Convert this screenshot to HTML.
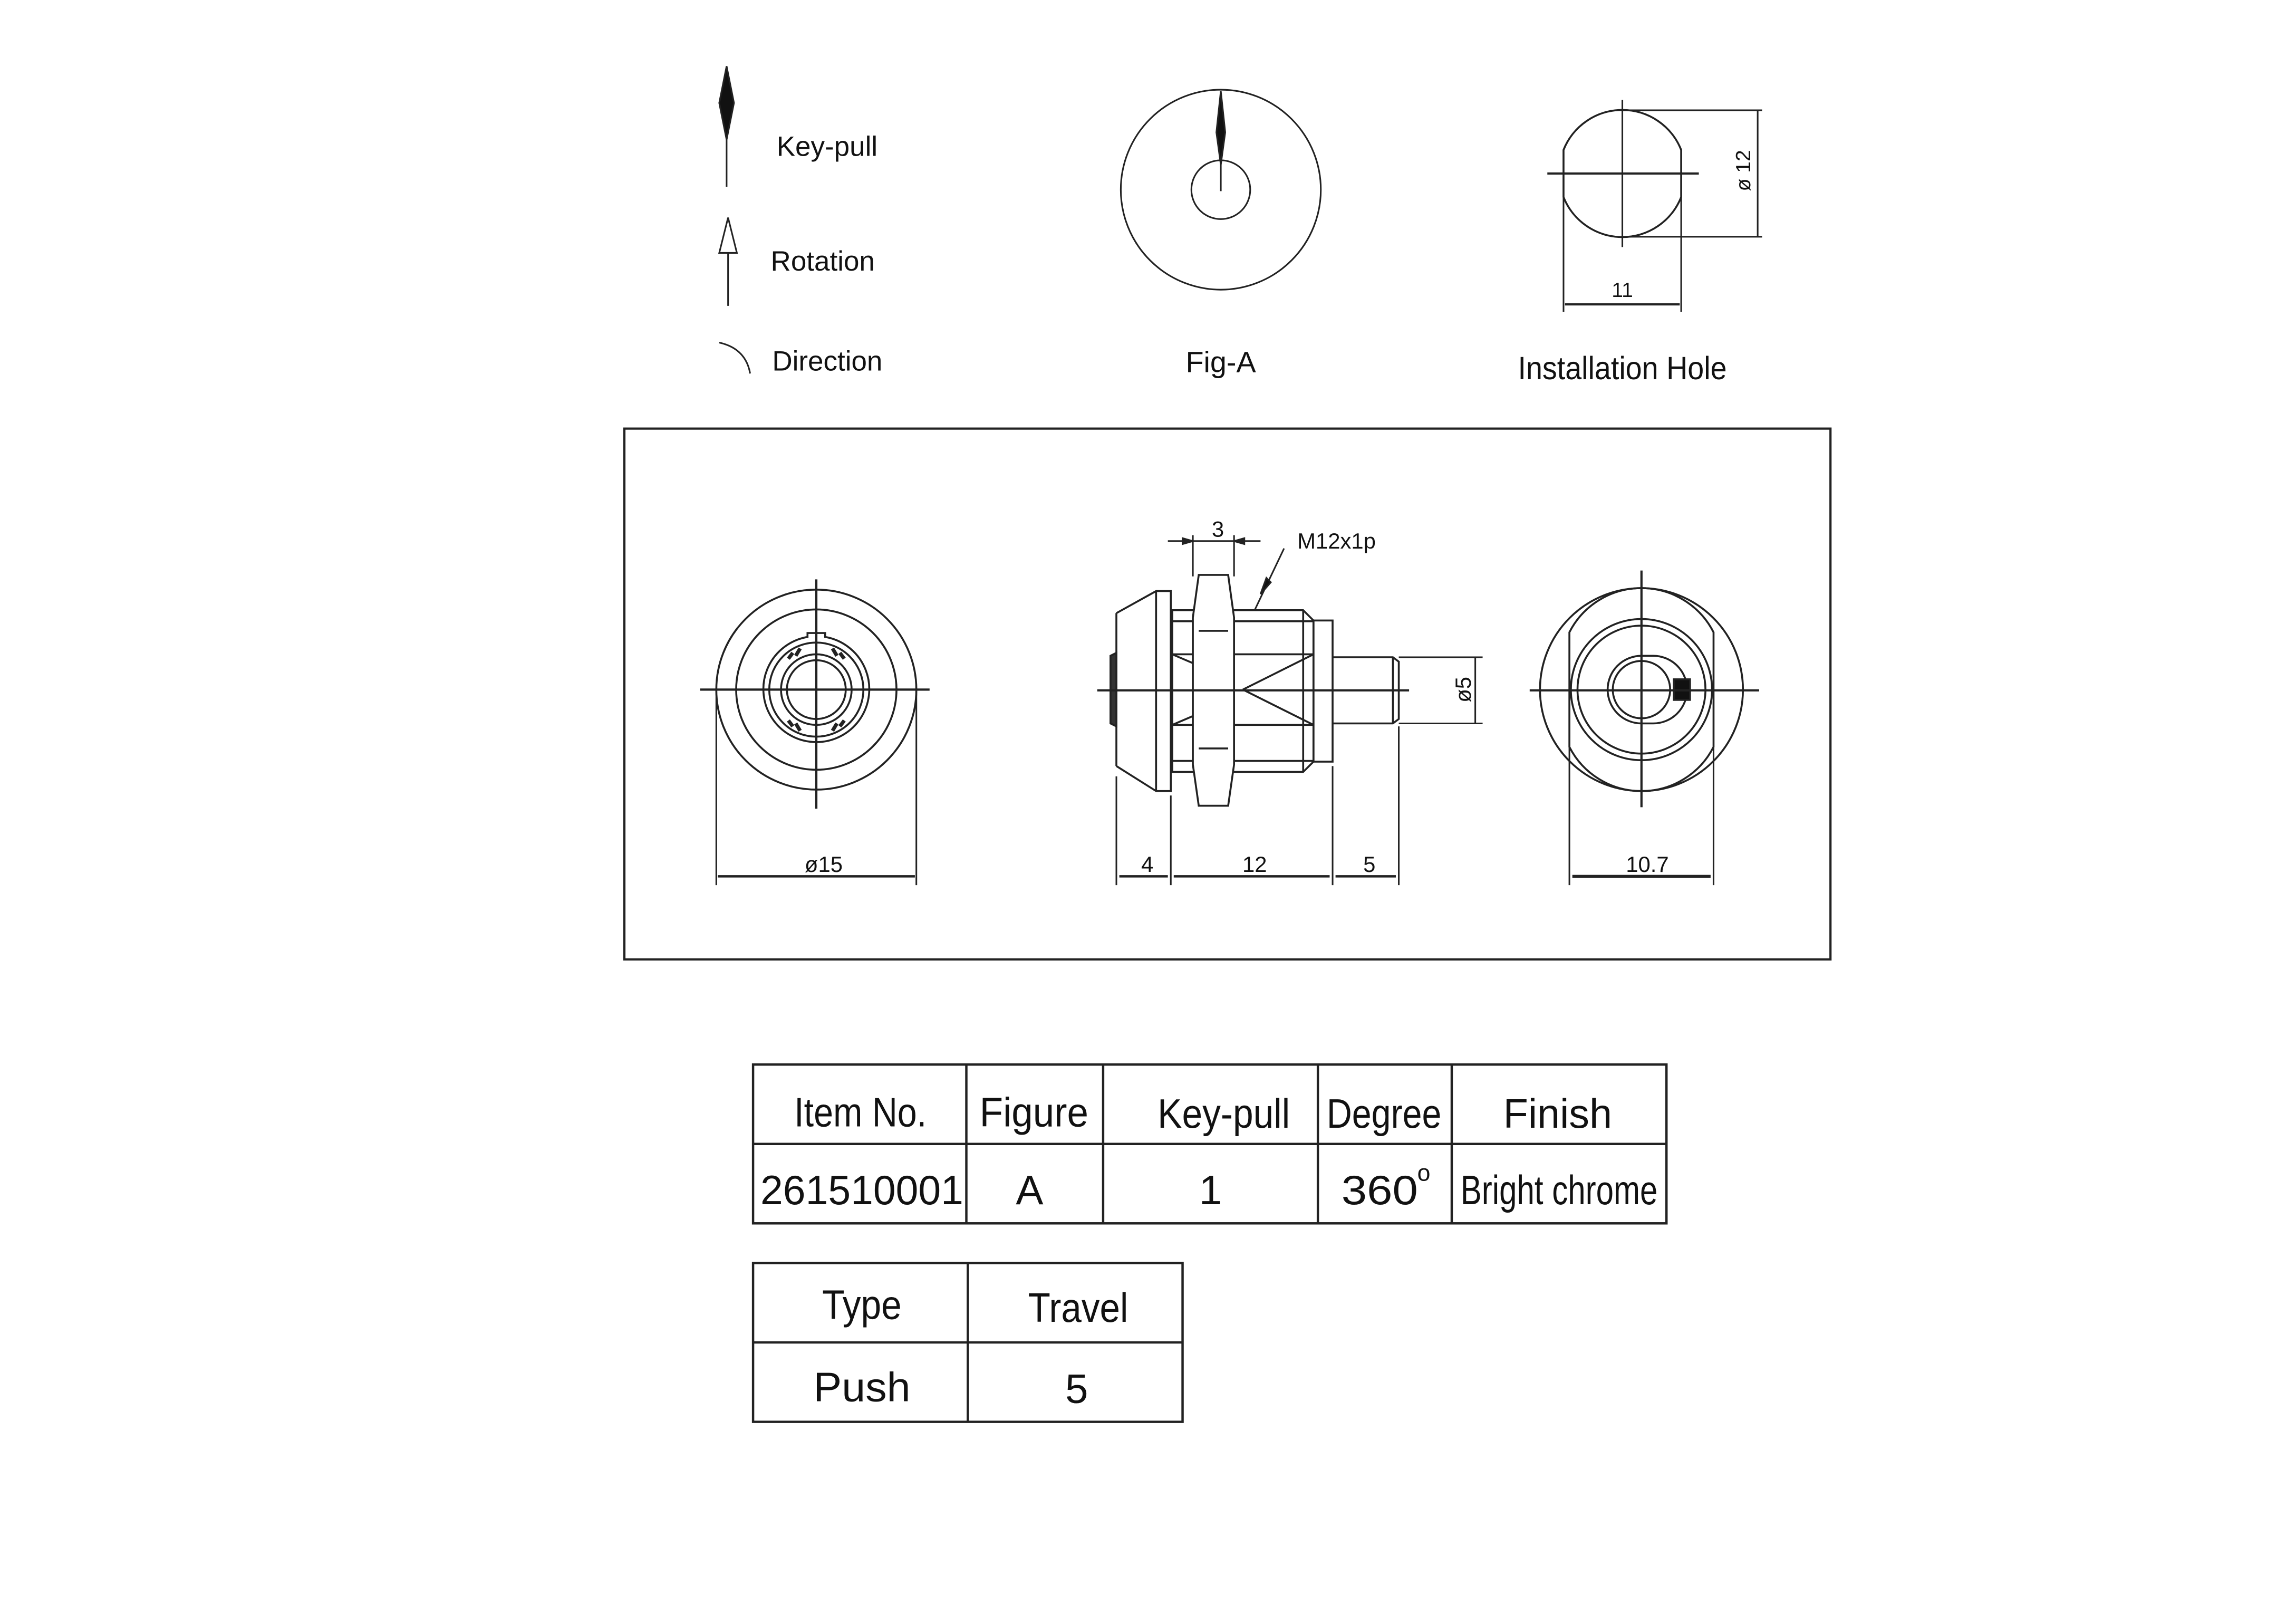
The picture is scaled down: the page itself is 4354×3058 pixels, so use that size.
<!DOCTYPE html>
<html><head><meta charset="utf-8"><style>
html,body{margin:0;padding:0;background:#fff;}
svg{display:block;}
text{font-family:"Liberation Sans",Arial,sans-serif;fill:#111;}
</style></head><body>
<svg width="4354" height="3058" viewBox="0 0 1561 1097" preserveAspectRatio="none" xmlns="http://www.w3.org/2000/svg">
<g fill="none" stroke="#222" stroke-width="1.1">
<!-- Legend -->
<path d="M494 45 L499 70 L494 95 L489 70 Z" fill="#111"/>
<line x1="494" y1="95" x2="494" y2="127"/>
<path d="M495 148 L501 172 L489 172 Z" fill="#fff"/>
<line x1="495" y1="172" x2="495" y2="208"/>
<path d="M489 233 Q507 237 510 254"/>
<!-- Fig-A -->
<circle cx="830" cy="129" r="68"/>
<circle cx="830" cy="129" r="20"/>
<path d="M830 62 L833 90 L830 112 L827 90 Z" fill="#111"/>
<line x1="830" y1="110" x2="830" y2="130"/>
<!-- Installation hole -->
<path d="M1063 102 A43 43 0 0 1 1143 102 L1143 134 A43 43 0 0 1 1063 134 Z" stroke-width="1.3"/>
<path d="M1063 134 L1063 212 M1143 134 L1143 212"/>
<line x1="1103" y1="68" x2="1103" y2="168"/>
<line x1="1052" y1="118" x2="1155" y2="118" stroke-width="1.5"/>
<line x1="1103" y1="75" x2="1198" y2="75"/>
<line x1="1103" y1="161" x2="1198" y2="161"/>
<line x1="1195" y1="75" x2="1195" y2="161"/>
<line x1="1064" y1="207" x2="1142" y2="207" stroke-width="1.5"/>
<!-- Frame -->
<rect x="424.5" y="291.5" width="820" height="361" stroke-width="1.5"/>
<!-- Left view -->
<g stroke-width="1.3">
<circle cx="555" cy="469" r="68"/>
<circle cx="555" cy="469" r="54.5"/>
<path d="M549 433.2 L549 430.5 L561 430.5 L561 433.2 A36 36 0 1 1 549 433.2 Z"/>
<circle cx="555" cy="469" r="32"/>
<circle cx="555" cy="469" r="24"/>
<circle cx="555" cy="469" r="20"/>
<path d="M536 448 L539 444 M544 441 L541 446 M574 448 L571 444 M566 441 L569 446 M536 490 L539 494 M544 497 L541 492 M574 490 L571 494 M566 497 L569 492" stroke-width="2.5"/>
</g>
<line x1="476" y1="469" x2="632" y2="469" stroke-width="1.5"/>
<line x1="555" y1="394" x2="555" y2="550" stroke-width="1.5"/>
<line x1="487" y1="469" x2="487" y2="602"/>
<line x1="623" y1="469" x2="623" y2="602"/>
<line x1="488" y1="596" x2="622" y2="596" stroke-width="1.6"/>
<!-- Middle view -->
<g stroke-width="1.3">
<path d="M759 417 L759 521 M759 417 L786 402 L796 402 L796 538 L786 538 L759 521 M786 402 L786 538"/>
<path d="M755 446 L759 444 L759 494 L755 492 Z" fill="#333"/>
<path d="M797 415 L886 415 L893 422 L893 518 L886 525 L797 525 Z"/>
<line x1="797" y1="422.5" x2="893" y2="422.5"/>
<line x1="797" y1="517.5" x2="893" y2="517.5"/>
<line x1="797" y1="445" x2="893" y2="445"/>
<line x1="797" y1="493" x2="893" y2="493"/>
<line x1="886" y1="415" x2="886" y2="525"/>
<rect x="893" y="422" width="13" height="96"/>
<path d="M815 391 L835 391 L839 420 L839 520 L835 548 L815 548 L811 520 L811 420 Z" fill="#fff"/>
<line x1="815" y1="429" x2="835" y2="429"/>
<line x1="815" y1="509" x2="835" y2="509"/>
<path d="M845 469 L893 445 M845 469 L893 493"/>
<path d="M797 445 L811 451 M797 493 L811 487"/>
<path d="M906 447 L947 447 L951 450 L951 489 L947 492 L906 492"/>
<line x1="947" y1="447" x2="947" y2="492"/>
</g>
<line x1="746" y1="469.5" x2="958" y2="469.5" stroke-width="1.5"/>
<line x1="951" y1="447" x2="1008" y2="447"/>
<line x1="951" y1="492" x2="1008" y2="492"/>
<line x1="1003" y1="447" x2="1003" y2="492"/>
<line x1="811" y1="364" x2="811" y2="392"/>
<line x1="839" y1="364" x2="839" y2="392"/>
<line x1="794" y1="368" x2="857" y2="368"/>
<path d="M811 368 L804 366 L804 370 Z M839 368 L846 366 L846 370 Z" fill="#222"/>
<line x1="873" y1="373" x2="853" y2="415"/>
<path d="M857 404 L861 393 L864 396 Z" fill="#111"/>
<line x1="759" y1="528" x2="759" y2="602"/>
<line x1="796" y1="541" x2="796" y2="602"/>
<line x1="906" y1="521" x2="906" y2="602"/>
<line x1="951" y1="494" x2="951" y2="602"/>
<line x1="761" y1="596" x2="794" y2="596" stroke-width="1.6"/>
<line x1="798" y1="596" x2="904" y2="596" stroke-width="1.6"/>
<line x1="908" y1="596" x2="949" y2="596" stroke-width="1.6"/>
<!-- Right view -->
<g stroke-width="1.3">
<circle cx="1116" cy="469" r="69"/>
<path d="M1067 430 A55 55 0 0 1 1165 430 L1165 508 A55 55 0 0 1 1067 508 Z"/>
<circle cx="1116" cy="469" r="48"/>
<circle cx="1116" cy="469" r="43.5"/>
<circle cx="1116" cy="469" r="19.5"/>
<path d="M1116 446 L1124 446 A23 23 0 0 1 1124 492 L1116 492 A23 23 0 0 1 1116 446 Z"/>
<rect x="1138" y="462" width="11" height="14" fill="#111"/>
</g>
<line x1="1040" y1="469.5" x2="1196" y2="469.5" stroke-width="1.5"/>
<line x1="1116" y1="388" x2="1116" y2="549" stroke-width="1.5"/>
<line x1="1067" y1="508" x2="1067" y2="602"/>
<line x1="1165" y1="508" x2="1165" y2="602"/>
<line x1="1069" y1="596" x2="1163" y2="596" stroke-width="2"/>
<!-- Tables -->
<g stroke-width="1.6">
<rect x="512" y="724" width="621" height="108"/>
<line x1="512" y1="778" x2="1133" y2="778"/>
<line x1="657" y1="724" x2="657" y2="832"/>
<line x1="750" y1="724" x2="750" y2="832"/>
<line x1="896" y1="724" x2="896" y2="832"/>
<line x1="987" y1="724" x2="987" y2="832"/>
<rect x="512" y="859" width="292" height="108"/>
<line x1="512" y1="913" x2="804" y2="913"/>
<line x1="658" y1="859" x2="658" y2="967"/>
</g>
</g>
<!-- Text -->
<text x="528" y="106" font-size="19">Key-pull</text>
<text x="524" y="184" font-size="19">Rotation</text>
<text x="525" y="252" font-size="19">Direction</text>
<text x="830" y="253" font-size="20" text-anchor="middle">Fig-A</text>
<text x="1103" y="258" font-size="22" text-anchor="middle" textLength="142" lengthAdjust="spacingAndGlyphs">Installation Hole</text>
<text x="1103" y="202" font-size="14" text-anchor="middle">11</text>
<text x="0" y="0" font-size="14" text-anchor="middle" transform="translate(1190 116) rotate(-90)">ø 12</text>
<text x="560" y="593" font-size="15" text-anchor="middle">ø15</text>
<text x="780" y="593" font-size="15" text-anchor="middle">4</text>
<text x="853" y="593" font-size="15" text-anchor="middle">12</text>
<text x="931" y="593" font-size="15" text-anchor="middle">5</text>
<text x="1120" y="593" font-size="15" text-anchor="middle">10.7</text>
<text x="828" y="365" font-size="15" text-anchor="middle">3</text>
<text x="882" y="373" font-size="15">M12x1p</text>
<text x="0" y="0" font-size="15" text-anchor="middle" transform="translate(1000 469) rotate(-90)">ø5</text>
<g font-size="28" text-anchor="middle">
<text x="585" y="766" textLength="90" lengthAdjust="spacingAndGlyphs">Item No.</text>
<text x="703" y="766" textLength="74" lengthAdjust="spacingAndGlyphs">Figure</text>
<text x="832" y="767" textLength="90" lengthAdjust="spacingAndGlyphs">Key-pull</text>
<text x="941" y="767" textLength="78" lengthAdjust="spacingAndGlyphs">Degree</text>
<text x="1059" y="767" textLength="74" lengthAdjust="spacingAndGlyphs">Finish</text>
<text x="586" y="819" textLength="138" lengthAdjust="spacingAndGlyphs">261510001</text>
<text x="700" y="819">A</text>
<text x="823" y="819">1</text>
<text x="938" y="819" textLength="52" lengthAdjust="spacingAndGlyphs">360</text>
<text x="968" y="803" font-size="16">o</text>
<text x="1060" y="819" textLength="134" lengthAdjust="spacingAndGlyphs">Bright chrome</text>
<text x="586" y="897" textLength="54" lengthAdjust="spacingAndGlyphs">Type</text>
<text x="733" y="899" textLength="68" lengthAdjust="spacingAndGlyphs">Travel</text>
<text x="586" y="953" textLength="66" lengthAdjust="spacingAndGlyphs">Push</text>
<text x="732" y="954">5</text>
</g>
</svg>
</body></html>
